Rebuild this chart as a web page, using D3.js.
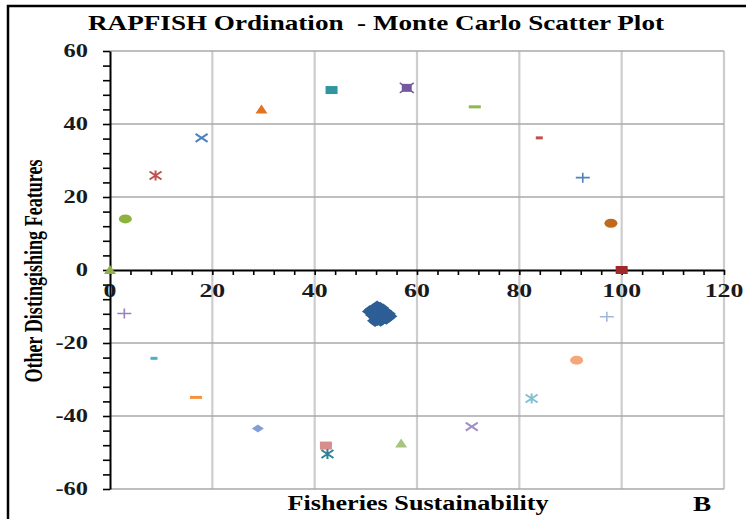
<!DOCTYPE html>
<html><head><meta charset="utf-8">
<script src="https://cdn.jsdelivr.net/npm/d3@7"></script>
<style>body{margin:0;background:#fff}svg{display:block}text{white-space:pre}</style>
</head><body>
<script>
// Axis ticks
const xTicks = [0, 20, 40, 60, 80, 100, 120];
const yTicks = [-60, -40, -20, 0, 20, 40, 60];

// Reference (anchor) fisheries positions
const anchorX = [0, 3.0, 8.9, 17.9, 29.6, 43.3, 58.0, 71.3, 83.9, 92.4, 97.9, 100,
                 2.8, 8.6, 16.8, 28.9, 42.2, 42.5, 56.9, 70.7, 82.4, 91.2, 97.1];
const anchorY = [0, 14.0, 25.9, 36.2, 44.0, 49.3, 49.9, 44.7, 36.2, 25.3, 12.8, 0,
                 -11.9, -24.2, -34.9, -43.4, -48.1, -50.4, -47.5, -42.9, -35.2, -24.7, -12.8];

// Monte Carlo replicates of the assessed fishery
const clusterX = [52.2, 52.8, 51.6, 53.4, 50.8, 52.0, 53.0, 54.0, 50.4, 51.4, 52.5, 53.6, 54.7,
                  51.0, 52.0, 53.0, 54.2, 55.0, 51.6, 52.6, 53.6, 54.5, 51.4, 52.3, 53.2, 54.0,
                  51.8, 52.9];
const clusterY = [-9.6, -9.9, -10.2, -10.4, -10.8, -10.9, -11.0, -11.2, -11.4, -11.6, -11.7, -11.8, -12.0,
                  -12.3, -12.4, -12.5, -12.6, -12.7, -13.1, -13.2, -13.3, -13.2, -13.9, -14.1, -14.0, -13.8,
                  -14.4, -14.3];

// Marker styling per anchor point
const anchorShape = ["tri", "ell", "ast", "x", "tri", "sq", "star", "dash", "sdash", "plus", "ell", "sq",
                     "plus", "sdash", "dash", "dia", "sq", "ast", "tri", "x", "ast", "ell", "plus"];
const anchorColor = ["#8fb04a", "#8db33f", "#c0504d", "#4f81bd", "#e3731c", "#31949f", "#7359a0", "#8cb84a",
                     "#c0504d", "#4f81bd", "#c06a20", "#a0282b", "#9a80c0", "#4bb0c8", "#f7913e", "#7f9fd6",
                     "#d58e8c", "#2f8196", "#a9c47f", "#a08fc4", "#7fc0d4", "#f6a77a", "#9fb8dc"];

const W = 746, H = 519;
const SX = 1.36;            // horizontal glyph stretch
const serif = '"Liberation Serif","Times New Roman",serif';

const svg = d3.select("body").append("svg").attr("width", W).attr("height", H);
const x = d3.scaleLinear().domain([0, 120]).range([110, 724]);
const y = d3.scaleLinear().domain([-60, 60]).range([489, 51]);

// Outer frame
svg.append("path").attr("d", `M8,${H} V6 H${W}`)
  .attr("fill", "none").attr("stroke", "#000").attr("stroke-width", 2.5);

// Gridlines
svg.append("g").selectAll("line").data(xTicks.filter(d => d > 0)).join("line")
  .attr("x1", d => x(d)).attr("x2", d => x(d))
  .attr("y1", y(60)).attr("y2", y(-60))
  .attr("stroke", "#cdcdcd").attr("stroke-width", 2.2);
svg.append("g").selectAll("line").data(yTicks.filter(d => d !== 0)).join("line")
  .attr("x1", x(0)).attr("x2", x(120))
  .attr("y1", d => y(d)).attr("y2", d => y(d))
  .attr("stroke", "#a8a8a8").attr("stroke-width", 1.5);

// Axes with minor ticks every 4 units
const minorX = d3.range(0, 121, 4);
const minorY = d3.range(-60, 61, 4);
const gx = svg.append("g").attr("transform", `translate(0,${y(0)})`)
  .call(d3.axisBottom(x).tickValues(minorX).tickSize(5).tickSizeOuter(0).tickFormat(""));
const gy = svg.append("g").attr("transform", `translate(${x(0)},0)`)
  .call(d3.axisLeft(y).tickValues(minorY).tickSize(7).tickSizeOuter(0).tickFormat(""));
[gx, gy].forEach(g => {
  g.select(".domain").attr("stroke", "#000").attr("stroke-width", 2);
  g.selectAll(".tick line").attr("stroke", "#000").attr("stroke-width", 1.6);
});

// Tick labels
svg.append("g").selectAll("text").data(xTicks).join("text")
  .attr("transform", d => `translate(${x(d)},${y(0) + 27}) scale(${SX},1)`)
  .attr("text-anchor", "middle")
  .attr("font-family", serif).attr("font-weight", "bold").attr("font-size", 19)
  .attr("fill", "#1a1a1a")
  .text(d => d);
svg.append("g").selectAll("text").data(yTicks).join("text")
  .attr("transform", d => `translate(${x(0) - 22},${y(d)}) scale(${SX},1)`)
  .attr("text-anchor", "end").attr("dy", "0.35em")
  .attr("font-family", serif).attr("font-weight", "bold").attr("font-size", 18)
  .attr("fill", "#1a1a1a")
  .text(d => d);

// Titles
svg.append("text").attr("x", 376).attr("y", 30).attr("text-anchor", "middle")
  .attr("font-family", serif).attr("font-weight", "bold").attr("font-size", 21)
  .attr("textLength", 576).attr("lengthAdjust", "spacingAndGlyphs")
  .text("RAPFISH Ordination  - Monte Carlo Scatter Plot");
svg.append("text").attr("x", 418).attr("y", 510).attr("text-anchor", "middle")
  .attr("font-family", serif).attr("font-weight", "bold").attr("font-size", 20)
  .attr("textLength", 261).attr("lengthAdjust", "spacingAndGlyphs")
  .text("Fisheries Sustainability");
svg.append("text").attr("x", 702).attr("y", 511).attr("text-anchor", "middle")
  .attr("font-family", serif).attr("font-weight", "bold").attr("font-size", 20)
  .attr("transform", `translate(702,0) scale(${SX},1) translate(-702,0)`)
  .text("B");
svg.append("text")
  .attr("transform", `translate(42,271) rotate(-90)`)
  .attr("text-anchor", "middle")
  .attr("font-family", serif).attr("font-weight", "bold").attr("font-size", 25)
  .attr("textLength", 223).attr("lengthAdjust", "spacingAndGlyphs")
  .text("Other Distingishing Features");

// Marker shapes
function drawMarker(g, shape, color) {
  const stroke = (d, w) => g.append("path").attr("d", d).attr("fill", "none")
    .attr("stroke", color).attr("stroke-width", w);
  switch (shape) {
    case "tri": g.append("path").attr("d", "M0,-5L6,4L-6,4Z").attr("fill", color); break;
    case "sq": g.append("rect").attr("x", -6).attr("y", -4).attr("width", 12).attr("height", 8).attr("fill", color); break;
    case "ell": g.append("ellipse").attr("rx", 6.5).attr("ry", 4.5).attr("fill", color); break;
    case "x": stroke("M-6,-4L6,4M-6,4L6,-4", 2); break;
    case "ast": stroke("M-6,-4L6,4M-6,4L6,-4M0,-5V5", 2); break;
    case "star":
      g.append("rect").attr("x", -5).attr("y", -4).attr("width", 10).attr("height", 8).attr("fill", color);
      stroke("M-7,-5L7,5M-7,5L7,-5", 1.5); break;
    case "dash": g.append("rect").attr("x", -6).attr("y", -1.5).attr("width", 12).attr("height", 3).attr("fill", color); break;
    case "sdash": g.append("rect").attr("x", -3.5).attr("y", -1.5).attr("width", 7).attr("height", 3).attr("fill", color); break;
    case "plus": stroke("M-7,0H7M0,-5V5", 1.6); break;
    case "dia": g.append("path").attr("d", "M-6,0L0,-4L6,0L0,4Z").attr("fill", color); break;
  }
}

// Monte Carlo cluster
svg.append("g").selectAll("path").data(clusterX.map((v, i) => [v, clusterY[i]])).join("path")
  .attr("transform", d => `translate(${x(d[0])},${y(d[1])})`)
  .attr("d", "M-6,0L0,-4.5L6,0L0,4.5Z")
  .attr("fill", "#2e5e96");

// Anchor points
const anchors = svg.append("g");
anchorX.forEach((v, i) => {
  const g = anchors.append("g").attr("transform", `translate(${x(v)},${y(anchorY[i])})`);
  drawMarker(g, anchorShape[i], anchorColor[i]);
});
</script>
</body></html>
